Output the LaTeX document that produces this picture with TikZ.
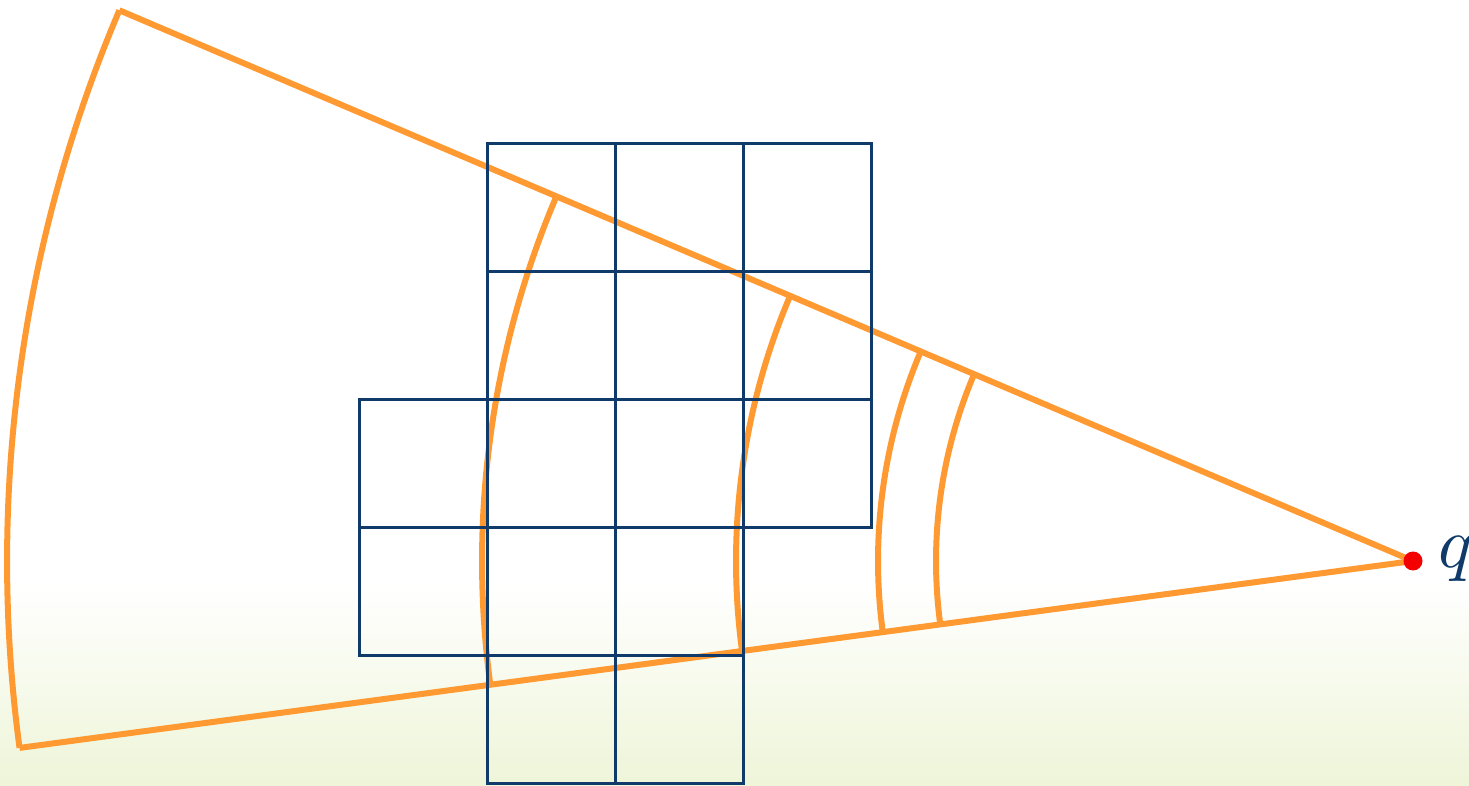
\documentclass[tikz,border=0pt]{standalone}
\usepackage{graphicx}
\usetikzlibrary{calc}
\definecolor{gridblue}{HTML}{0F3A6A}
\definecolor{sectororange}{HTML}{FF9A33}
\definecolor{dotred}{HTML}{F40000}
\definecolor{bggreen}{HTML}{EEF5D8}
\begin{document}
\begin{tikzpicture}[x=1pt,y=1pt,
  orangeline/.style={draw=sectororange, line width=6pt},
  gridcell/.style={draw=gridblue, line width=3pt}]
\useasboundingbox (0,0) rectangle (1469,785);
\fill[white] (0,200) rectangle (1469,785);
\shade[top color=white, bottom color=bggreen] (0,0) rectangle (1469,201);
\coordinate (q) at (1413,224);
\coordinate (top) at ($(q)+(156.94:1406)$);
\coordinate (bot) at ($(q)+(187.64:1406)$);
\draw[orangeline] (q) -- (top);
\draw[orangeline] (q) -- (bot);
\draw[orangeline] (top) arc[start angle=156.94, end angle=187.64, radius=1406pt];
\foreach \r in {931,677,535,477}{
  \draw[orangeline] ($(q)+(156.94:\r)$) arc[start angle=156.94, end angle=187.64, radius=\r pt];
}
\begin{scope}[shift={(359.7,2)}, x=127.9pt, y=127.9pt]
\foreach \c/\rr in {1/0,2/0,0/1,1/1,2/1,0/2,1/2,2/2,3/2,1/3,2/3,3/3,1/4,2/4,3/4}{
  \draw[gridcell] (\c,\rr) rectangle ++(1,1);
}
\end{scope}
\node[circle, fill=dotred, minimum size=19pt, inner sep=0pt] (dot) at (q) {};
\node[anchor=base west, inner sep=0pt, text=gridblue] (qlabel) at (1438,217) {\scalebox{7.2}{$q$}};
\end{tikzpicture}
\end{document}
